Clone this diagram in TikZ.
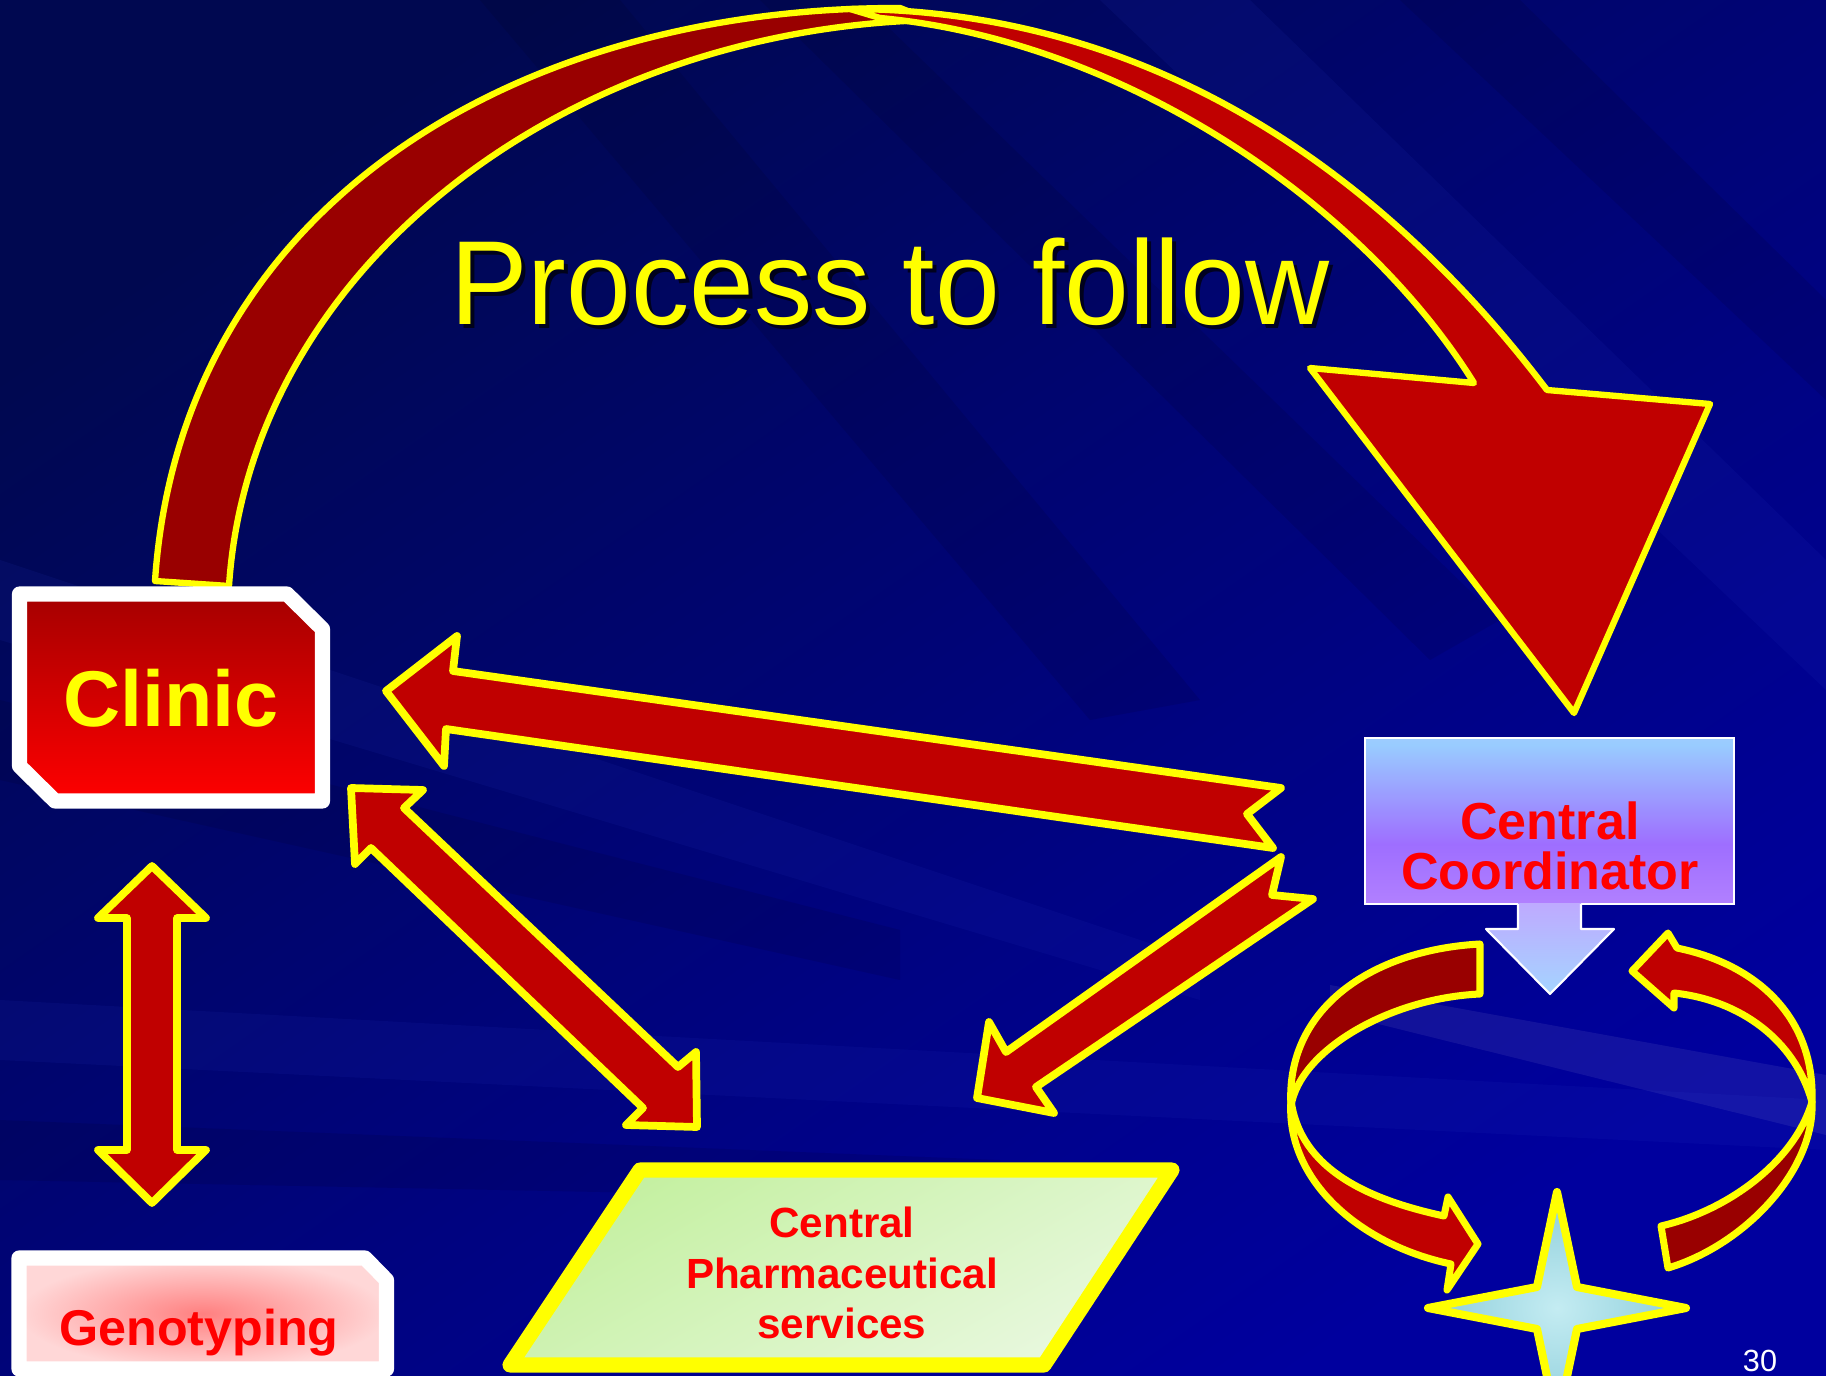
\documentclass[tikz,border=0pt]{standalone}
\usepackage{fontspec}
\setmainfont{Liberation Sans}
\definecolor{bgdark}{RGB}{0,8,80}
\definecolor{bglight}{RGB}{0,0,158}
\definecolor{ylw}{RGB}{255,255,0}
\definecolor{redA}{RGB}{192,0,0}
\definecolor{redB}{RGB}{153,0,0}
\definecolor{clinTop}{RGB}{165,0,0}
\definecolor{clinBot}{RGB}{255,0,0}
\definecolor{genoIn}{RGB}{255,128,128}
\definecolor{genoOut}{RGB}{255,215,215}
\definecolor{pharmA}{RGB}{196,240,160}
\definecolor{pharmB}{RGB}{232,248,222}
\definecolor{cc1}{RGB}{204,153,255}
\definecolor{cc2}{RGB}{158,110,255}
\definecolor{cc3}{RGB}{153,204,255}
\definecolor{cc4}{RGB}{204,204,255}
\definecolor{arrTop}{RGB}{190,170,255}
\definecolor{arrBot}{RGB}{165,212,255}
\definecolor{starIn}{RGB}{196,236,242}
\definecolor{starOut}{RGB}{140,205,218}
\pgfdeclareverticalshading{coordshade}{100bp}{color(0bp)=(cc1); color(43bp)=(cc2); color(73bp)=(cc3); color(100bp)=(cc4)}
\tikzset{
  arcband/.style={draw=ylw, line width=1.8pt, line join=round},
  blockarrow/.style={fill=redA, draw=ylw, line width=2.2pt, line join=round},
  loopband/.style={draw=ylw, line width=2pt, line join=round},
  whitebox/.style={draw=white, line width=4.3pt, line join=round},
  darkstreak/.style={fill=black, fill opacity=0.09},
  lightstreak/.style={fill={rgb,255:red,40;green,60;blue,200}, fill opacity=0.1},
  boldlabel/.style={font=\bfseries, inner sep=0pt}
}
\begin{document}
\begin{tikzpicture}[x=0.01cm,y=-0.01cm]
\path[use as bounding box] (0,0) rectangle (1826,1376);
% background
\begin{scope}
\clip (0,0) rectangle (1826,1376);
\shade[top color=bgdark, bottom color=bglight, shading angle=35] (0,0) rectangle (1826,1376);
\fill[darkstreak] (480,0) -- (620,0) -- (1200,700) -- (1090,720) -- cycle;
\fill[darkstreak] (760,0) -- (860,0) -- (1500,620) -- (1430,660) -- cycle;
\fill[lightstreak] (1100,0) -- (1250,0) -- (1826,560) -- (1826,690) -- cycle;
\fill[darkstreak] (1400,0) -- (1520,0) -- (1826,300) -- (1826,400) -- cycle;
\fill[lightstreak] (0,560) -- (0,640) -- (1200,1000) -- (1200,960) -- cycle;
\fill[darkstreak] (0,700) -- (0,780) -- (900,980) -- (900,930) -- cycle;
\fill[lightstreak] (0,1000) -- (0,1060) -- (1826,1150) -- (1826,1100) -- cycle;
\fill[darkstreak] (0,1120) -- (0,1180) -- (1000,1200) -- (1000,1160) -- cycle;
\fill[fill=white, fill opacity=0.07] (1330,985) -- (1826,1075) -- (1826,1135) -- (1330,1012) -- cycle;
\end{scope}

% title
\node[anchor=base, font=\fontsize{34}{40}\selectfont, text=black, text opacity=0.7, xscale=0.973] (titleshadow) at (894,329) {Process to follow};
\node[anchor=base, font=\fontsize{34}{40}\selectfont, text=ylw, xscale=0.973] (title) at (890,325) {Process to follow};

% big arc arrow: left band then right band with head
\filldraw[fill=redB, arcband] (155,581) .. controls (180,210) and (510,7) .. (900,8) -- (930,20) .. controls (560,30) and (250,270) .. (229,586) -- cycle;
\filldraw[fill=redA, arcband] (850,9) .. controls (1150,10) and (1380,170) .. (1547,390) -- (1710,404) -- (1574,713) -- (1310,368) -- (1474,383) .. controls (1360,200) and (1120,40) .. (880,18) -- cycle;

% Clinic box
\shadedraw[whitebox, top color=clinTop, bottom color=clinBot] (19.5,594) -- (287,594) -- (322.5,629) -- (322.5,801) -- (55,801) -- (19.5,766) -- cycle;
\node[boldlabel, anchor=base, font=\fontsize{22.5}{26}\selectfont\bfseries, text=ylw] (clinic) at (171,726) {Clinic};

% long arrow Coordinator -> Clinic
\draw[blockarrow] (386,691) -- (457,636) -- (453,671) -- (1281,788) -- (1247,814) -- (1273,848) -- (446,729) -- (444,766) -- cycle;
% double arrow Clinic <-> Pharmaceutical
\draw[blockarrow] (351,788) -- (423,790) -- (404,808) -- (678,1067) -- (696,1052) -- (697,1127) -- (626,1125) -- (643,1108) -- (371,848) -- (355,864) -- cycle;
% arrow Coordinator -> Pharmaceutical
\draw[blockarrow] (1281,857) -- (1272,895) -- (1313,899) -- (1036,1087) -- (1054,1113) -- (977,1098) -- (989,1022) -- (1006,1052) -- cycle;
% vertical double arrow Clinic <-> Genotyping
\draw[blockarrow] (152,866) -- (206,918) -- (177,918) -- (177,1150) -- (206,1150) -- (152,1203) -- (98,1150) -- (127,1150) -- (127,918) -- (98,918) -- cycle;

% Genotyping box
\shadedraw[whitebox, inner color=genoIn, outer color=genoOut] (19,1258) -- (365,1258) -- (386.5,1280) -- (386.5,1369) -- (19,1369) -- cycle;
\node[anchor=base, font=\fontsize{14.3}{17}\selectfont\bfseries, text=red, inner sep=0pt] (geno) at (199,1345) {Genotyping};

% Central Pharmaceutical services
\shadedraw[draw=ylw, line width=4.3pt, line join=round, top color=pharmA, bottom color=pharmB, shading angle=30] (640,1170) -- (1172,1170) -- (1044,1365) -- (510,1365) -- cycle;
\node[anchor=base, font=\fontsize{12}{14}\selectfont\bfseries, text=red, inner sep=0pt] (pharm1) at (842,1237) {Central};
\node[anchor=base, font=\fontsize{12}{14}\selectfont\bfseries, text=red, inner sep=0pt] (pharm2) at (842,1288) {Pharmaceutical};
\node[anchor=base, font=\fontsize{12}{14}\selectfont\bfseries, text=red, inner sep=0pt] (pharm3) at (842,1338) {services};

% Central Coordinator box and its down arrow
\shade[shading=coordshade] (1365,738) rectangle (1734,904);
\draw[white, line width=0.6pt] (1365,738) rectangle (1734,904);
\shade[top color=arrTop, bottom color=arrBot] (1518,903) -- (1518,929) -- (1486,929) -- (1550,994) -- (1614,929) -- (1581,929) -- (1581,903) -- cycle;
\draw[white, line width=0.6pt, line join=round] (1518,904) -- (1518,929) -- (1486,929) -- (1550,994) -- (1614,929) -- (1581,929) -- (1581,904);
\node[anchor=base, font=\fontsize{14.8}{17}\selectfont\bfseries, text=red, inner sep=0pt] (coord1) at (1550,839) {Central};
\node[anchor=base, font=\fontsize{14.8}{17}\selectfont\bfseries, text=red, inner sep=0pt] (coord2) at (1550,889) {Coordinator};

% loop arrows
\filldraw[fill=redA, loopband] (1291,1100) .. controls (1285,1180) and (1360,1245) .. (1451,1264) -- (1447,1290) -- (1478,1244) -- (1448,1197) -- (1444,1216) .. controls (1370,1200) and (1300,1170) .. (1291,1100) -- cycle;
\filldraw[fill=redB, loopband] (1480,944) -- (1480,994) .. controls (1390,998) and (1300,1050) .. (1291,1106) .. controls (1285,1010) and (1370,950) .. (1480,944) -- cycle;
\filldraw[fill=redB, loopband] (1661,1226) -- (1668,1268) .. controls (1745,1245) and (1815,1170) .. (1812,1102) .. controls (1795,1160) and (1730,1210) .. (1661,1226) -- cycle;
\filldraw[fill=redA, loopband] (1812,1102) .. controls (1815,1020) and (1760,965) .. (1677,948) -- (1668,933) -- (1632,971) -- (1674,1008) -- (1674,993) .. controls (1740,1000) and (1795,1040) .. (1812,1102) -- cycle;

% star
\shadedraw[draw=ylw, line width=2.3pt, line join=round, inner color=starIn, outer color=starOut] (1557,1192) -- (1577,1287) -- (1686,1308) -- (1577,1329) -- (1557,1424) -- (1537,1329) -- (1428,1308) -- (1537,1287) -- cycle;

% page number
\node[anchor=base, font=\fontsize{8.7}{10}\selectfont, text=white, inner sep=0pt] (pnum) at (1760,1371) {30};
\end{tikzpicture}
\end{document}
